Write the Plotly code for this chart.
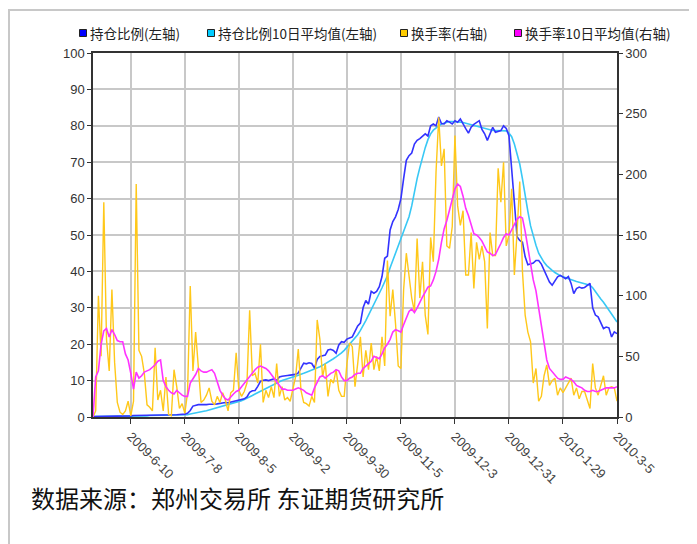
import pandas as pd
import plotly.graph_objects as go

# ---- trading-day categories (Zhengzhou exchange calendar) ----
HOLIDAYS = ["2009-05-28", "2009-05-29", "2009-10-01", "2009-10-02", "2009-10-05",
            "2009-10-06", "2009-10-07", "2009-10-08", "2010-01-01", "2010-02-15",
            "2010-02-16", "2010-02-17", "2010-02-18", "2010-02-19"]
_days = pd.bdate_range("2009-05-19", "2010-03-05")
_days = [d for d in _days if d.strftime("%Y-%m-%d") not in HOLIDAYS]
DATES = [f"{d.year}-{d.month}-{d.day}" for d in _days]

TICK_LABELS = ["2009-6-10", "2009-7-8", "2009-8-5", "2009-9-2", "2009-9-30",
               "2009-11-5", "2009-12-3", "2009-12-31", "2010-1-29", "2010-3-5"]

# 持仓比例 (left axis, %)
HOLD_RATIO = [
    0.1, 0.1, 0.1, 0.2, 0.2, 0.2, 0.2, 0.2, 0.3, 0.3,
    0.3, 0.3, 0.3, 0.3, 0.3, 0.4, 0.4, 0.4, 0.4, 0.4,
    0.4, 0.4, 0.5, 0.5, 0.5, 0.5, 0.5, 0.5, 0.6, 0.6,
    0.6, 0.6, 0.7, 0.7, 0.8, 1.0, 1.8, 3.0, 3.3, 3.4,
    3.4, 3.3, 3.4, 3.5, 3.4, 3.5, 3.6, 3.8, 3.9, 4.0,
    3.9, 4.1, 4.3, 4.5, 4.6, 4.8, 5.0, 5.5, 6.8, 7.2,
    7.3, 8.4, 9.8, 10.1, 10.2, 10.0, 10.3, 10.5, 10.0, 11.0,
    11.2, 11.2, 11.4, 11.5, 11.6, 11.7, 12.1, 13.5, 14.8, 14.6,
    14.9, 14.7, 13.4, 15.8, 16.6, 16.8, 17.0, 18.4, 18.6, 18.3,
    17.5, 19.8, 20.7, 20.5, 21.4, 21.7, 22.0, 23.5, 25.0, 25.8,
    30.0, 32.0, 31.0, 34.5, 34.0, 34.5, 35.8, 38.6, 43.6, 44.2,
    51.4, 53.7, 55.0, 57.0, 60.0, 65.5, 70.5, 71.8, 72.5, 75.0,
    76.0, 76.5, 77.3, 77.8, 77.2, 80.0, 80.5, 80.0, 82.4, 80.6,
    80.5, 81.4, 81.0, 80.5, 81.4, 81.0, 81.9, 80.4, 79.2, 78.0,
    79.6, 80.4, 81.0, 81.4, 79.0, 77.8, 76.0, 78.0, 79.6, 78.2,
    78.5, 78.7, 80.0, 79.3, 77.3, 67.0, 59.0, 49.5, 48.5, 48.0,
    44.0, 41.8, 42.1, 42.3, 43.0, 43.0, 42.0, 40.2, 38.5, 37.1,
    36.2, 37.5, 38.5, 38.9, 38.4, 38.0, 38.6, 36.7, 33.9, 35.3,
    35.7, 35.4, 35.6, 36.2, 36.7, 30.0, 28.0, 27.5, 26.1, 24.3,
    24.7, 24.5, 22.0, 23.4, 22.9]

# 持仓比例10日平均值 (left axis, %)
HOLD_RATIO_MA10 = [
    0.1, 0.1, 0.1, 0.1, 0.1, 0.1, 0.1, 0.2, 0.2, 0.2,
    0.2, 0.2, 0.2, 0.2, 0.3, 0.3, 0.3, 0.3, 0.3, 0.3,
    0.3, 0.4, 0.4, 0.4, 0.4, 0.4, 0.4, 0.5, 0.5, 0.5,
    0.5, 0.5, 0.5, 0.6, 0.6, 0.6, 0.8, 1.0, 1.2, 1.4,
    1.5, 1.6, 1.7, 1.9, 2.1, 2.4, 2.6, 2.8, 3.0, 3.2,
    3.4, 3.6, 3.8, 4.0, 4.2, 4.5, 4.8, 5.1, 5.5, 5.9,
    6.3, 6.7, 7.1, 7.5, 7.9, 8.3, 8.7, 9.0, 9.3, 9.7,
    10.0, 10.3, 10.6, 10.8, 11.0, 11.2, 11.4, 11.7, 12.0, 12.3,
    12.6, 12.8, 13.0, 13.4, 13.8, 14.2, 14.6, 15.0, 15.5, 16.0,
    16.5, 17.0, 17.6, 18.3, 19.2, 20.0, 20.8, 21.6, 22.6, 23.8,
    25.0, 26.5, 28.0, 29.6, 31.0, 32.5, 34.0, 35.5, 37.0, 38.8,
    41.0, 43.0, 45.0, 46.8, 48.5, 50.5, 52.8, 55.0, 58.0, 62.0,
    65.5, 68.5, 71.5, 74.0, 76.2, 77.8, 78.8, 79.5, 80.0, 80.5,
    80.8, 81.1, 81.2, 81.2, 81.2, 81.1, 81.0, 80.9, 80.7, 80.5,
    80.3, 80.1, 80.0, 79.8, 79.6, 79.3, 79.0, 78.8, 78.7, 78.7,
    78.7, 78.7, 78.7, 78.6, 78.0, 77.0, 75.0, 72.5, 69.5, 65.4,
    60.5, 56.5, 52.5, 49.5, 47.2, 45.0, 43.6, 42.5, 41.6, 40.8,
    40.3, 39.7, 39.2, 38.8, 38.5, 38.2, 37.9, 37.7, 37.4, 37.2,
    37.0, 36.8, 36.7, 36.4, 36.2, 35.5, 34.4, 33.3, 32.4, 31.5,
    30.5, 29.4, 28.3, 27.2, 26.1]

# 换手率 (right axis, %)
TURNOVER = [
    0, 5, 100, 50, 177, 64, 38, 105, 45, 12,
    4, 2, 5, 13, 1, 13, 192, 55, 50, 36,
    10, 8, 5, 57, 14, 22, 5, 33, 2, 1,
    39, 25, 7, 11, 3, 20, 108, 38, 70, 40,
    12, 14, 18, 24, 13, 10, 17, 12, 20, 14,
    5, 20, 22, 53, 22, 17, 21, 28, 88, 34,
    36, 28, 60, 12, 22, 16, 25, 16, 44, 17,
    25, 14, 16, 13, 22, 33, 56, 22, 12, 11,
    9, 17, 12, 80, 64, 33, 44, 17, 31, 28,
    39, 22, 17, 17, 44, 61, 58, 25, 44, 66,
    33, 55, 39, 61, 39, 50, 38, 66, 42, 129,
    83, 105, 77, 42, 40, 105, 135, 117, 98, 87,
    147, 98, 128, 84, 68, 148, 128, 202, 247, 207,
    221, 141, 139, 157, 232, 174, 158, 170, 117, 117,
    152, 106, 144, 130, 141, 128, 73, 152, 133, 133,
    205, 177, 210, 141, 150, 188, 117, 152, 194, 120,
    84, 70, 62, 28, 40, 13, 17, 34, 43, 26,
    30, 32, 18, 24, 20, 24, 28, 32, 18, 24,
    15, 21, 21, 13, 7, 44, 24, 18, 26, 34,
    18, 24, 25, 24, 13]

# 换手率10日平均值 (right axis, %)
TURNOVER_MA10 = [
    0, 33, 38, 60, 71, 73, 66, 72, 68, 63,
    62, 62, 52, 47, 36, 23, 37, 32, 34, 37,
    38, 39, 41, 43, 46, 47, 30, 25, 22, 20,
    19, 22, 20, 18, 17, 17, 28, 31, 35, 40,
    38, 37, 37, 38, 39, 36, 28, 22, 18, 15,
    14, 17, 19, 21, 22, 25, 28, 31, 34, 36,
    39, 41, 42, 41, 40, 38, 35, 32, 28, 25,
    23, 23, 22, 22, 22, 23, 24, 23, 22, 20,
    19, 18, 24, 28, 33, 34, 32, 34, 36, 37,
    39, 38, 33, 30, 30, 32, 33, 35, 36, 36,
    40, 42, 44, 46, 50, 49, 48, 52, 57, 60,
    64, 70, 72, 71, 70, 76, 82, 87, 89, 86,
    90, 95, 99, 103, 107, 108, 113, 120, 130, 144,
    155, 162, 170, 178, 188, 192, 190, 182, 172, 166,
    158, 151, 150, 148, 145, 141, 136, 135, 133, 134,
    138, 143, 148, 151, 150, 154, 158, 163, 165, 164,
    153, 140, 125, 113, 104, 90, 76, 60, 47, 40,
    37, 35, 32, 31, 31, 33, 32, 31, 29, 26,
    25, 24, 22, 21, 21, 22, 21, 21, 22, 23,
    24, 24, 24, 24, 25]

SERIES_NAMES = ["持仓比例(左轴)", "持仓比例10日平均值(左轴)", "换手率(右轴)", "换手率10日平均值(右轴)"]
LINE_COLORS = ["#3333ff", "#38c8f5", "#ffc81a", "#ff33ff"]
KEY_COLORS = ["#0000ff", "#00ccff", "#ffcc00", "#ff00ff"]

for arr in (HOLD_RATIO, HOLD_RATIO_MA10, TURNOVER, TURNOVER_MA10):
    assert len(arr) == len(DATES), (len(arr), len(DATES))

# page has an 8px body margin, so the figure is drawn 8px in from the window edge
OFF = 8
W, H = 697 - OFF, 544 - OFF
ML, MR, MT, MB = 85, 80, 45, 127
PW, PH = W - ML - MR, H - MT - MB


def px(xs):
    """window x pixel -> paper x"""
    return (xs - OFF - ML) / PW


def py(ys):
    """window y pixel -> paper y"""
    return (H - MB - (ys - OFF)) / PH


fig = go.Figure()
# right-axis series
fig.add_trace(go.Scatter(x=DATES, y=TURNOVER, name=SERIES_NAMES[2], yaxis="y2", mode="lines",
                         line=dict(color=LINE_COLORS[2], width=1.4)))
fig.add_trace(go.Scatter(x=DATES, y=TURNOVER_MA10, name=SERIES_NAMES[3], yaxis="y2", mode="lines",
                         line=dict(color=LINE_COLORS[3], width=1.6)))
# left-axis series
fig.add_trace(go.Scatter(x=DATES, y=HOLD_RATIO_MA10, name=SERIES_NAMES[1], mode="lines",
                         line=dict(color=LINE_COLORS[1], width=1.6)))
fig.add_trace(go.Scatter(x=DATES, y=HOLD_RATIO, name=SERIES_NAMES[0], mode="lines",
                         line=dict(color=LINE_COLORS[0], width=1.6)))

# legend drawn as swatches + labels along the top (one row, as in the original)
LEGEND_KEY_X = [83, 211, 404, 518]
LEGEND_Y = 33
shapes = [dict(type="rect", xref="paper", yref="paper",
               x0=px(OFF + 1), x1=px(760), y0=py(600), y1=py(10),
               line=dict(color="#c8c8c8", width=2), fillcolor="rgba(0,0,0,0)", layer="below")]
annotations = []
for name, col, kx in zip(SERIES_NAMES, KEY_COLORS, LEGEND_KEY_X):
    shapes.append(dict(type="rect", xref="paper", yref="paper",
                       x0=px(kx - 3.5), x1=px(kx + 3.5), y0=py(LEGEND_Y + 3.5), y1=py(LEGEND_Y - 3.5),
                       line=dict(color="#222222", width=1), fillcolor=col))
    annotations.append(dict(text=name, xref="paper", yref="paper", x=px(kx + 4.5), y=py(LEGEND_Y),
                            xanchor="left", yanchor="middle", showarrow=False,
                            font=dict(family="Noto Sans CJK SC, sans-serif", size=13.5, color="#222222")))
annotations.append(dict(text="数据来源：郑州交易所 东证期货研究所", xref="paper", yref="paper",
                        x=px(29), y=py(497), xanchor="left", yanchor="middle", showarrow=False,
                        font=dict(family="Noto Sans CJK SC, sans-serif", size=24, color="#111111")))

axis_font = dict(family="Liberation Sans, Arial, sans-serif", size=13, color="#333333")

fig.update_layout(
    width=W, height=H,
    margin=dict(l=ML, r=MR, t=MT, b=MB, autoexpand=False),
    paper_bgcolor="white", plot_bgcolor="white",
    showlegend=False,
    font=dict(family="Noto Sans CJK SC, Liberation Sans, sans-serif", color="#222222"),
    xaxis=dict(type="category", range=[0, len(DATES) - 1],
               tickmode="array", tickvals=TICK_LABELS, ticktext=TICK_LABELS,
               tickangle=45, tickfont=dict(family="Liberation Sans, Arial, sans-serif", size=13, color="#444444"),
               showgrid=True, gridcolor="#c8c8c8", gridwidth=1.5,
               showline=True, linecolor="#333333", linewidth=1.5, mirror=True,
               ticks="outside", ticklen=5, tickcolor="#333333", zeroline=False),
    yaxis=dict(range=[0, 100], tick0=0, dtick=10, tickfont=axis_font,
               showgrid=True, gridcolor="#c8c8c8", gridwidth=1.5,
               showline=True, linecolor="#333333", linewidth=1.5,
               ticks="outside", ticklen=4, tickcolor="#333333", zeroline=False),
    yaxis2=dict(range=[0, 300], tick0=0, dtick=50, overlaying="y", side="right",
                tickfont=axis_font, showgrid=False,
                showline=True, linecolor="#333333", linewidth=1.5,
                ticks="outside", ticklen=4, tickcolor="#333333", zeroline=False),
    shapes=shapes,
    annotations=annotations,
)

fig.write_html("out.html")
